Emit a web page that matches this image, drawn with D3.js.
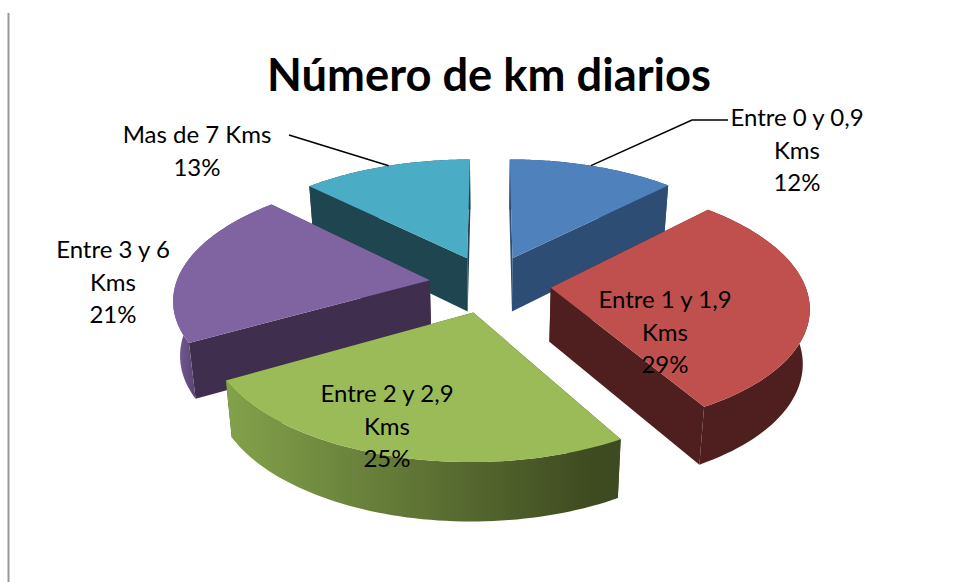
<!DOCTYPE html>
<html>
<head>
<meta charset="utf-8">
<script src="https://cdn.jsdelivr.net/npm/d3@7"></script>
<style>
  html, body { margin: 0; padding: 0; background: #fff; }
  svg { display: block; }
  text { font-family: Lato, "Open Sans", sans-serif; fill: #000; }
</style>
</head>
<body>
<script>
// values (the labels show them rounded)
const categories = ["Entre 0 y 0,9 Kms", "Entre 1 y 1,9 Kms", "Entre 2 y 2,9 Kms", "Entre 3 y 6 Kms", "Mas de 7 Kms"];
const percents = [12.4, 29.3, 25.1, 20.6, 12.6];
const labelLines = [["Entre 0 y 0,9", "Kms"], ["Entre 1 y 1,9", "Kms"], ["Entre 2 y 2,9", "Kms"], ["Entre 3 y 6", "Kms"], ["Mas de 7 Kms"]];
const topColors = ["#4f81bd", "#c0504d", "#9bbb59", "#8064a2", "#4bacc6"];
const wallColors = ["#2e4d75", "#4f1f1f", "#3f4a20", "#3f2e4d", "#1f4650"];
const sideColors = [["#2e4d75", "#2e4d75"], ["#4f1f1f", "#4f1f1f"], ["#83a24b", "#3e4a20"], ["#7d629e", "#57436f"], ["#1f4650", "#1f4650"]];
const sideRange = [[0, 1], [0, 1], [225, 595], [172, 196], [0, 1]];

const width = 954;
const height = 582;
const cx = 490;
const cy = 284;
const R = 254;          // pie radius on screen at mid depth
const explode = 0.24;   // slice offset, in radii
const squash = 119.5;   // vertical scale of the ground plane
const persp = 0.141;    // far side smaller than near side
const depth = 54;
const shrink = 0.022;   // bottom edge pulled in a little

// draw order is back to front: teal, blue, purple, red, green
const drawOrder = [4, 0, 3, 1, 2];

// label centres, one per slice, and first line y
const labelX = [797, 665, 387, 113, 197];
const labelY = [118, 300, 394, 250, 135];
const lineGap = 32.5;

const svg = d3.select("body").append("svg")
  .attr("width", width)
  .attr("height", height);

const defs = svg.append("defs");

svg.append("line")
  .attr("x1", 8.5).attr("x2", 8.5)
  .attr("y1", 13).attr("y2", height)
  .attr("stroke", "#999").attr("stroke-width", 2);

svg.append("text")
  .attr("x", 489).attr("y", 91)
  .attr("text-anchor", "middle")
  .attr("font-size", 45.3)
  .attr("font-weight", 700)
  .text("Número de km diarios");

const pie = d3.pie().sort(null).value(d => d);
const arcs = pie(percents);

const lineGen = d3.line();

// screen position of a point on the slice. a = angle clockwise from the top,
// r = 0..1, z = 0 on the top face, 1 on the bottom face
function project(d, a, r, z) {
  const mid = (d.startAngle + d.endAngle) / 2;
  const u = explode * Math.sin(mid) + r * Math.sin(a);
  const v = -explode * Math.cos(mid) - r * Math.cos(a);
  const k = 1 / (1 - persp * v);
  const s = 1 - shrink * z;
  return [
    cx + R * u * k * s,
    cy + squash * v * k + z * depth * Math.sqrt(k)
  ];
}

function arcPoints(d, z, reverse) {
  const n = 60;
  const pts = d3.range(n + 1).map(i => {
    const a = d.startAngle + (d.endAngle - d.startAngle) * i / n;
    return project(d, a, 1, z);
  });
  return reverse ? pts.reverse() : pts;
}

function radialWall(d, a) {
  return [project(d, a, 0, 0), project(d, a, 1, 0), project(d, a, 1, 1), project(d, a, 0, 1)];
}

arcs.forEach((d, i) => {
  const g = defs.append("linearGradient")
    .attr("id", "side" + i)
    .attr("gradientUnits", "userSpaceOnUse")
    .attr("x1", sideRange[i][0]).attr("x2", sideRange[i][1])
    .attr("y1", 0).attr("y2", 0);
  g.append("stop").attr("offset", "0%").attr("stop-color", sideColors[i][0]);
  g.append("stop").attr("offset", "100%").attr("stop-color", sideColors[i][1]);
});

const slices = svg.append("g");

drawOrder.forEach(i => {
  const d = arcs[i];
  const g = slices.append("g");

  g.append("path")
    .attr("d", lineGen(radialWall(d, d.startAngle)) + "Z")
    .attr("fill", wallColors[i]);
  g.append("path")
    .attr("d", lineGen(radialWall(d, d.endAngle)) + "Z")
    .attr("fill", wallColors[i]);

  g.append("path")
    .attr("d", lineGen(arcPoints(d, 0, false).concat(arcPoints(d, 1, true))) + "Z")
    .attr("fill", `url(#side${i})`);

  const top = [project(d, 0, 0, 0)].concat(arcPoints(d, 0, false));
  g.append("path")
    .attr("d", lineGen(top) + "Z")
    .attr("fill", topColors[i]);
});

// leader lines for the two labels sitting outside the pie
function leader(i, a, pts) {
  const start = project(arcs[i], a, 1, 0);
  svg.append("path")
    .attr("d", lineGen([start].concat(pts)))
    .attr("fill", "none")
    .attr("stroke", "#000")
    .attr("stroke-width", 1.5);
}
leader(0, 0.38, [[692, 120], [728, 120]]);
leader(4, 2 * Math.PI - 0.38, [[289, 135]]);

const labels = svg.append("g").attr("font-size", 24).attr("text-anchor", "middle");

arcs.forEach((d, i) => {
  const lines = labelLines[i].concat(Math.round(percents[i]) + "%");
  const t = labels.append("text");
  lines.forEach((line, j) => {
    t.append("tspan")
      .attr("x", labelX[i])
      .attr("y", labelY[i] + j * lineGap + 8)
      .text(line);
  });
});
</script>
</body>
</html>
